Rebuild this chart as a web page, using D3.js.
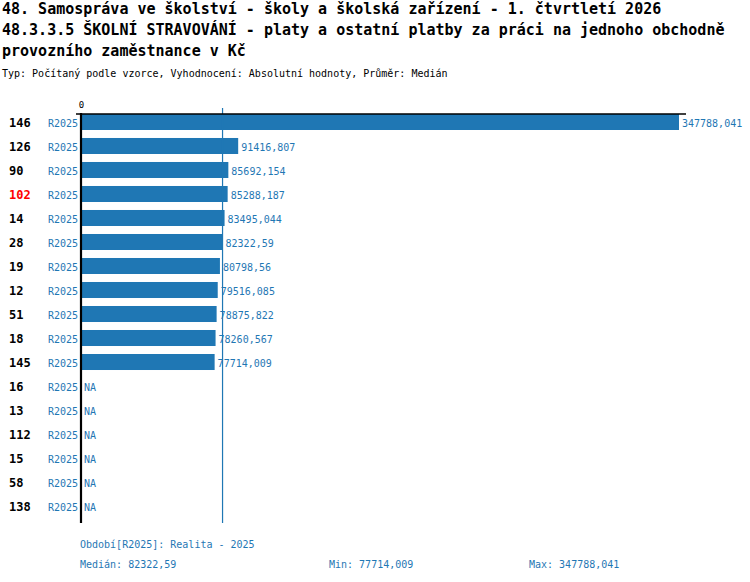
<!DOCTYPE html>
<html>
<head>
<meta charset="utf-8">
<script src="https://cdn.jsdelivr.net/npm/d3@7"></script>
<style>
  body { margin: 0; background: #fff; }
  text { font-family: "DejaVu Sans Mono", "Liberation Mono", monospace; }
</style>
</head>
<body>
<svg id="chart"></svg>
<script>
const titleLines = [
  "48. Samospráva ve školství - školy a školská zařízení - 1. čtvrtletí 2026",
  "48.3.3.5 ŠKOLNÍ STRAVOVÁNÍ - platy a ostatní platby za práci na jednoho obchodně",
  "provozního zaměstnance v Kč"
];
const subtitle = "Typ: Počítaný podle vzorce, Vyhodnocení: Absolutní hodnoty, Průměr: Medián";

const units = ["146", "126", "90", "102", "14", "28", "19", "12", "51", "18", "145", "16", "13", "112", "15", "58", "138"];
const periods = ["R2025", "R2025", "R2025", "R2025", "R2025", "R2025", "R2025", "R2025", "R2025", "R2025", "R2025", "R2025", "R2025", "R2025", "R2025", "R2025", "R2025"];
const values = [347788.041, 91416.807, 85692.154, 85288.187, 83495.044, 82322.59, 80798.56, 79516.085, 78875.822, 78260.567, 77714.009, null, null, null, null, null, null];
const highlighted = ["102"];
const median = 82322.59;
const minValue = 77714.009;
const maxValue = 347788.041;
const periodNote = "Období[R2025]: Realita - 2025";

const width = 750, height = 582;
const blue = "#1f77b4";
const fmt = v => String(v).replace(".", ",");

const svg = d3.select("#chart").attr("width", width).attr("height", height);

svg.selectAll("text.title")
   .data(titleLines)
   .enter()
   .append("text")
   .attr("class", "title")
   .attr("x", 2)
   .attr("y", (d, i) => 14 + i * 21)
   .attr("font-size", 15)
   .attr("font-weight", "bold")
   .attr("fill", "#000")
   .text(d => d);

svg.append("text")
   .attr("x", 2)
   .attr("y", 77)
   .attr("font-size", 10)
   .attr("fill", "#000")
   .text(subtitle);

const x = d3.scaleLinear().domain([0, maxValue]).range([81, 679]);
const y = d3.scaleBand().domain(units).range([110, 518]).paddingInner(0.333).paddingOuter(0.166);
const mid = d => y(d.unit) + y.bandwidth() / 2 + 5;

// bars
const rows = svg.selectAll("g.row")
   .data(units.map((u, i) => ({ unit: u, period: periods[i], value: values[i] })))
   .enter()
   .append("g")
   .attr("class", "row");

rows.filter(d => d.value != null)
   .append("rect")
   .attr("x", x(0))
   .attr("y", d => y(d.unit))
   .attr("width", d => x(d.value) - x(0))
   .attr("height", y.bandwidth())
   .attr("fill", blue);

rows.append("text")
   .attr("x", 9)
   .attr("y", mid)
   .attr("font-size", 12)
   .attr("font-weight", "bold")
   .attr("fill", d => highlighted.includes(d.unit) ? "#ff0000" : "#000")
   .text(d => d.unit);

rows.append("text")
   .attr("x", 78)
   .attr("y", mid)
   .attr("text-anchor", "end")
   .attr("font-size", 10)
   .attr("fill", blue)
   .text(d => d.period);

rows.append("text")
   .attr("x", d => d.value != null ? x(d.value) + 3 : x(0) + 3)
   .attr("y", mid)
   .attr("font-size", 10)
   .attr("fill", blue)
   .text(d => d.value != null ? fmt(d.value) : "NA");

// median line
svg.append("line")
   .attr("x1", x(median)).attr("x2", x(median))
   .attr("y1", 108).attr("y2", 523)
   .attr("stroke", blue)
   .attr("stroke-width", 1.2);

// top axis
const axis = svg.append("g")
   .attr("transform", "translate(0,114)")
   .call(d3.axisTop(x).tickValues([0]).tickSize(0).tickPadding(6));
axis.select(".domain").remove();
axis.selectAll("text").attr("font-size", 9).attr("font-family", "DejaVu Sans Mono");

svg.append("line")
   .attr("x1", x(0) - 5).attr("x2", x.range()[1] + 7)
   .attr("y1", 114).attr("y2", 114)
   .attr("stroke", "#000")
   .attr("stroke-width", 1.5);

svg.append("line")
   .attr("x1", x(0)).attr("x2", x(0))
   .attr("y1", 113).attr("y2", 523)
   .attr("stroke", "#000")
   .attr("stroke-width", 2.2);

// footer
svg.append("text")
   .attr("x", 80).attr("y", 548)
   .attr("font-size", 10).attr("fill", blue)
   .text(periodNote);

const footer = [
  { label: "Medián: " + fmt(median), x: 80 },
  { label: "Min: " + fmt(minValue), x: 329 },
  { label: "Max: " + fmt(maxValue), x: 529 }
];
svg.selectAll("text.footer")
   .data(footer)
   .enter()
   .append("text")
   .attr("class", "footer")
   .attr("x", d => d.x).attr("y", 568)
   .attr("font-size", 10).attr("fill", blue)
   .text(d => d.label);
</script>
</body>
</html>
